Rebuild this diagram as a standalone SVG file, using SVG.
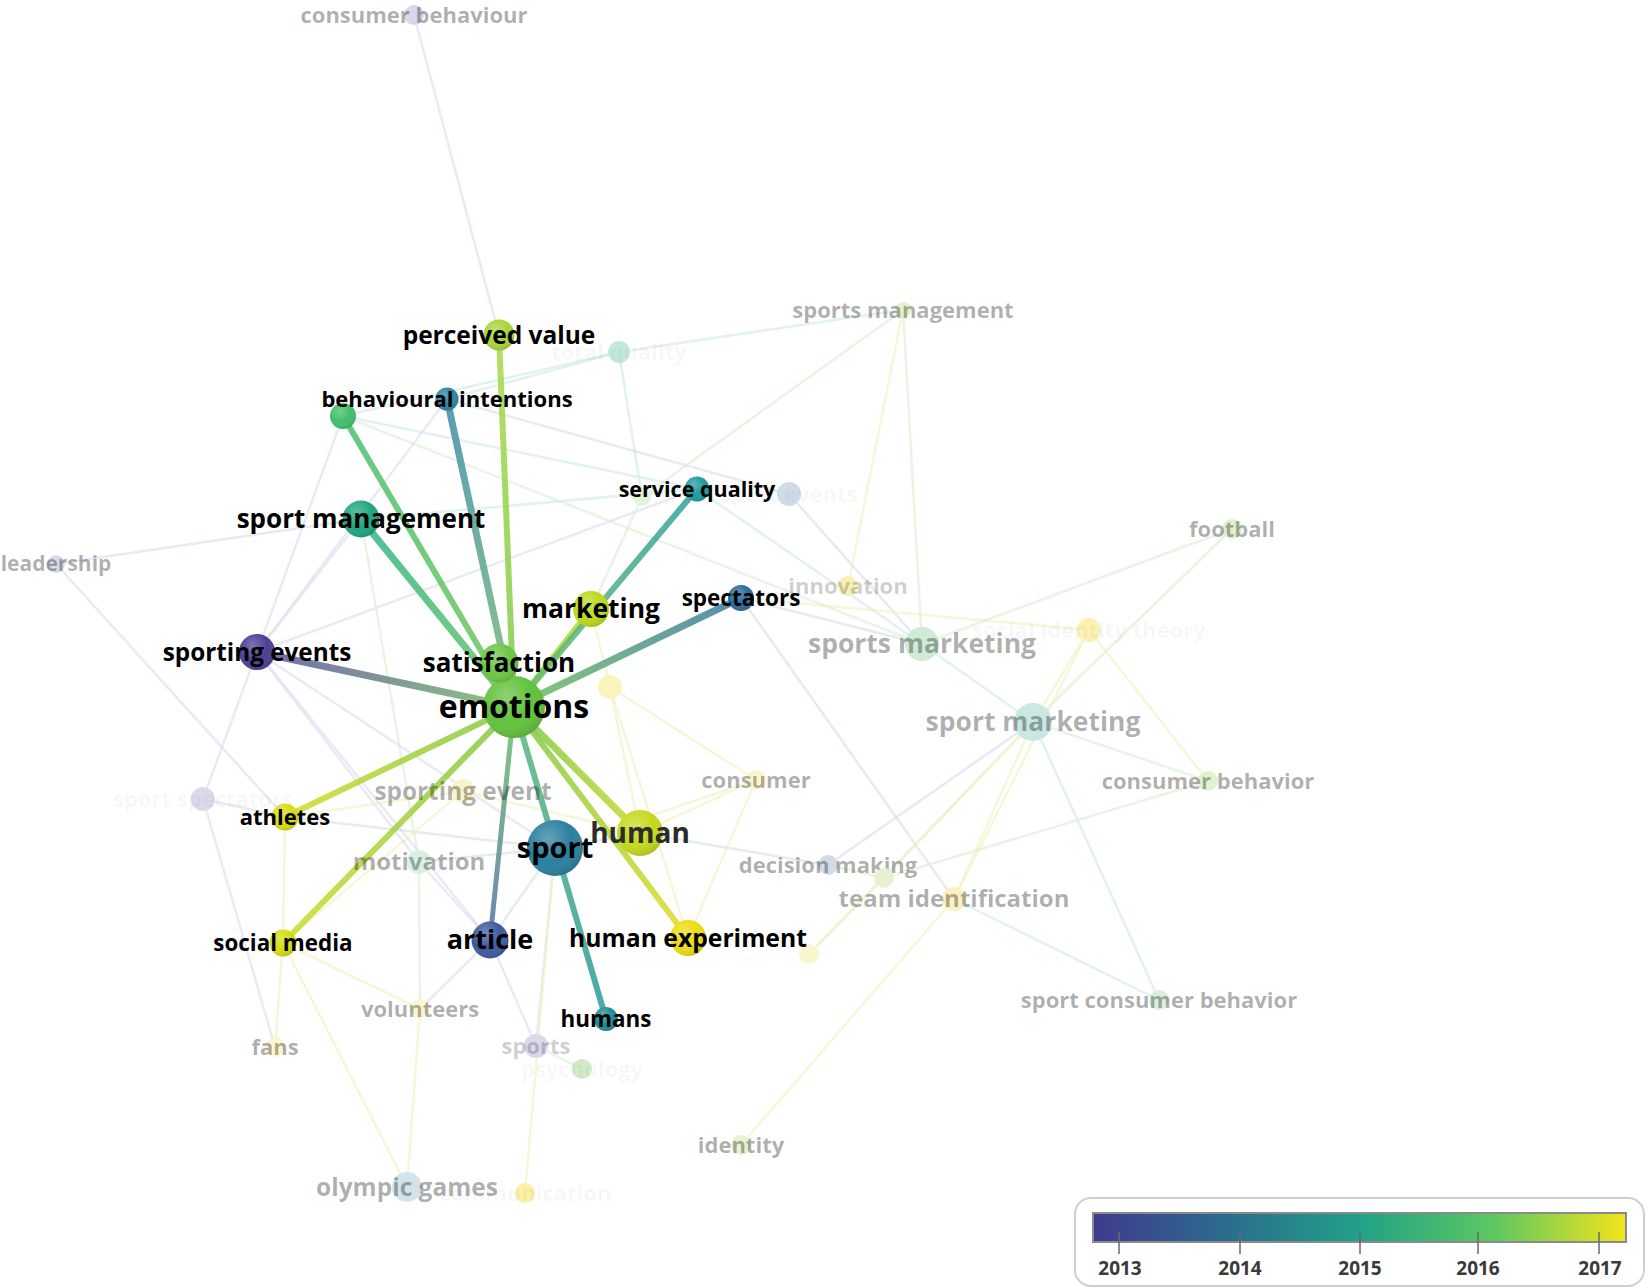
<svg xmlns="http://www.w3.org/2000/svg" width="1650" height="1288" viewBox="0 0 1650 1288">
<style>
text{font-family:"Open Sans","DejaVu Sans",sans-serif;font-weight:700;text-anchor:middle}
.lb{fill:#000}
.lg{fill:#000;fill-opacity:.33}
.li{fill:#000;fill-opacity:.2}
.lf{fill:#000;fill-opacity:.045}
.f{fill:none;stroke-width:2.5;stroke-linecap:round;stroke-opacity:.6}
.fp{stroke:#dcdcef}
.fy{stroke:#f1f0c0}
.fg{stroke:#d9efcf}
.ft{stroke:#cfeae4}
.fb{stroke:#d4deeb}
.t{fill:none;stroke-linecap:round;stroke-opacity:.85}
.sh{fill:url(#shade)}
.yr{font-size:19px;fill:#3a3a3a}
</style>
<defs>
<radialGradient id="shade" cx=".38" cy=".32" r=".75">
<stop offset="0" stop-color="#fff" stop-opacity=".28"/>
<stop offset=".55" stop-color="#fff" stop-opacity="0"/>
<stop offset="1" stop-color="#000" stop-opacity=".18"/>
</radialGradient>
<linearGradient id="leg" x1="0" y1="0" x2="1" y2="0">
<stop offset="0" stop-color="#3f3a8e"/>
<stop offset=".25" stop-color="#2c6c8e"/>
<stop offset=".5" stop-color="#21a187"/>
<stop offset=".75" stop-color="#5cc763"/>
<stop offset="1" stop-color="#f3e41b"/>
</linearGradient>
<linearGradient id="gPV" gradientUnits="userSpaceOnUse" x1="499" y1="335" x2="514" y2="707"><stop offset="0" stop-color="#a9d84c"/><stop offset="1" stop-color="#7ccb4a"/></linearGradient>
<linearGradient id="gBI" gradientUnits="userSpaceOnUse" x1="447" y1="399" x2="514" y2="707"><stop offset="0" stop-color="#3c8ca6"/><stop offset="1" stop-color="#78bc78"/></linearGradient>
<linearGradient id="gGN" gradientUnits="userSpaceOnUse" x1="343" y1="416" x2="514" y2="707"><stop offset="0" stop-color="#48c070"/><stop offset="1" stop-color="#70c858"/></linearGradient>
<linearGradient id="gSMG" gradientUnits="userSpaceOnUse" x1="361" y1="519" x2="514" y2="707"><stop offset="0" stop-color="#30b488"/><stop offset="1" stop-color="#6cc660"/></linearGradient>
<linearGradient id="gSEV" gradientUnits="userSpaceOnUse" x1="257" y1="652" x2="514" y2="707"><stop offset="0" stop-color="#5850a0"/><stop offset="1" stop-color="#7cbc6a"/></linearGradient>
<linearGradient id="gMK" gradientUnits="userSpaceOnUse" x1="591" y1="609" x2="514" y2="707"><stop offset="0" stop-color="#bcdb30"/><stop offset="1" stop-color="#7ccb48"/></linearGradient>
<linearGradient id="gSQ" gradientUnits="userSpaceOnUse" x1="697" y1="489" x2="514" y2="707"><stop offset="0" stop-color="#2c9ea0"/><stop offset="1" stop-color="#70c264"/></linearGradient>
<linearGradient id="gSP" gradientUnits="userSpaceOnUse" x1="741" y1="598" x2="514" y2="707"><stop offset="0" stop-color="#3a78a0"/><stop offset="1" stop-color="#70c264"/></linearGradient>
<linearGradient id="gATH" gradientUnits="userSpaceOnUse" x1="285" y1="817" x2="514" y2="707"><stop offset="0" stop-color="#d0dc28"/><stop offset="1" stop-color="#80c848"/></linearGradient>
<linearGradient id="gSMD" gradientUnits="userSpaceOnUse" x1="283" y1="943" x2="514" y2="707"><stop offset="0" stop-color="#ccdc28"/><stop offset="1" stop-color="#80c848"/></linearGradient>
<linearGradient id="gART" gradientUnits="userSpaceOnUse" x1="490" y1="940" x2="514" y2="707"><stop offset="0" stop-color="#5070a8"/><stop offset="1" stop-color="#70c264"/></linearGradient>
<linearGradient id="gHMS" gradientUnits="userSpaceOnUse" x1="606" y1="1019" x2="514" y2="707"><stop offset="0" stop-color="#2a9a9c"/><stop offset="1" stop-color="#5cb878"/></linearGradient>
<linearGradient id="gHUM" gradientUnits="userSpaceOnUse" x1="640" y1="833" x2="514" y2="707"><stop offset="0" stop-color="#c6d82a"/><stop offset="1" stop-color="#7cc84a"/></linearGradient>
<linearGradient id="gHEX" gradientUnits="userSpaceOnUse" x1="688" y1="938" x2="514" y2="707"><stop offset="0" stop-color="#e2dc22"/><stop offset="1" stop-color="#7cc84a"/></linearGradient>
</defs>
<rect width="1650" height="1288" fill="#fff"/>
<g id="connectors">
<line class="f fp" x1="414" y1="15" x2="499" y2="335"/>
<line class="f ft" x1="619" y1="352" x2="903" y2="310"/>
<line class="f ft" x1="619" y1="352" x2="642" y2="497"/>
<line class="f ft" x1="343" y1="416" x2="619" y2="352"/>
<line class="f ft" x1="447" y1="399" x2="619" y2="352"/>
<line class="f fg" x1="903" y1="310" x2="922" y2="644"/>
<line class="f fy" x1="903" y1="310" x2="848" y2="586"/>
<line class="f fg" x1="903" y1="310" x2="642" y2="497"/>
<line class="f fb" x1="447" y1="399" x2="789" y2="494"/>
<line class="f ft" x1="343" y1="416" x2="697" y2="489"/>
<line class="f fg" x1="343" y1="416" x2="922" y2="644"/>
<line class="f fb" x1="789" y1="494" x2="922" y2="644"/>
<line class="f fb" x1="741" y1="598" x2="954" y2="899"/>
<line class="f fy" x1="741" y1="598" x2="1089" y2="630"/>
<line class="f fb" x1="741" y1="598" x2="922" y2="644"/>
<line class="f ft" x1="697" y1="489" x2="922" y2="644"/>
<line class="f fg" x1="1232" y1="529" x2="922" y2="644"/>
<line class="f fg" x1="1232" y1="529" x2="1033" y2="722"/>
<line class="f fy" x1="1089" y1="630" x2="1033" y2="722"/>
<line class="f fy" x1="1089" y1="630" x2="1208" y2="781"/>
<line class="f fy" x1="1089" y1="630" x2="954" y2="899"/>
<line class="f ft" x1="922" y1="644" x2="1033" y2="722"/>
<line class="f fg" x1="1033" y1="722" x2="1208" y2="781"/>
<line class="f ft" x1="1033" y1="722" x2="1159" y2="1000"/>
<line class="f fg" x1="1033" y1="722" x2="884" y2="878"/>
<line class="f fy" x1="1033" y1="722" x2="954" y2="899"/>
<line class="f fb" x1="1033" y1="722" x2="828" y2="865"/>
<line class="f fy" x1="1033" y1="722" x2="809" y2="954"/>
<line class="f fg" x1="1208" y1="781" x2="884" y2="878"/>
<line class="f fy" x1="756" y1="780" x2="640" y2="833"/>
<line class="f fy" x1="756" y1="780" x2="555" y2="848"/>
<line class="f fy" x1="756" y1="780" x2="688" y2="938"/>
<line class="f fy" x1="756" y1="780" x2="610" y2="687"/>
<line class="f fb" x1="828" y1="865" x2="640" y2="833"/>
<line class="f fg" x1="828" y1="865" x2="884" y2="878"/>
<line class="f ft" x1="954" y1="899" x2="1159" y2="1000"/>
<line class="f fy" x1="954" y1="899" x2="741" y2="1145"/>
<line class="f fy" x1="809" y1="954" x2="884" y2="878"/>
<line class="f fp" x1="257" y1="652" x2="361" y2="519"/>
<line class="f fp" x1="257" y1="652" x2="343" y2="416"/>
<line class="f fp" x1="257" y1="652" x2="203" y2="799"/>
<line class="f fp" x1="257" y1="652" x2="555" y2="848"/>
<line class="f fp" x1="257" y1="652" x2="490" y2="940"/>
<line class="f fp" x1="257" y1="652" x2="697" y2="489"/>
<line class="f fp" x1="447" y1="399" x2="257" y2="652"/>
<line class="f fb" x1="56" y1="564" x2="361" y2="519"/>
<line class="f fp" x1="56" y1="564" x2="285" y2="817"/>
<line class="f fp" x1="203" y1="799" x2="285" y2="817"/>
<line class="f fp" x1="203" y1="799" x2="275" y2="1047"/>
<line class="f fy" x1="285" y1="817" x2="283" y2="943"/>
<line class="f fb" x1="285" y1="817" x2="555" y2="848"/>
<line class="f fy" x1="285" y1="817" x2="463" y2="791"/>
<line class="f fy" x1="283" y1="943" x2="275" y2="1047"/>
<line class="f fy" x1="283" y1="943" x2="407" y2="1187"/>
<line class="f fy" x1="283" y1="943" x2="420" y2="1009"/>
<line class="f fy" x1="283" y1="943" x2="463" y2="791"/>
<line class="f fp" x1="490" y1="940" x2="536" y2="1046"/>
<line class="f fp" x1="490" y1="940" x2="420" y2="1009"/>
<line class="f fp" x1="490" y1="940" x2="419" y2="862"/>
<line class="f fp" x1="555" y1="848" x2="536" y2="1046"/>
<line class="f fb" x1="555" y1="848" x2="490" y2="940"/>
<line class="f fb" x1="555" y1="848" x2="640" y2="833"/>
<line class="f fb" x1="555" y1="848" x2="419" y2="862"/>
<line class="f fy" x1="407" y1="1187" x2="420" y2="1009"/>
<line class="f fy" x1="525" y1="1193" x2="555" y2="848"/>
<line class="f fg" x1="419" y1="862" x2="420" y2="1009"/>
<line class="f fp" x1="419" y1="862" x2="257" y2="652"/>
<line class="f fg" x1="419" y1="862" x2="361" y2="519"/>
<line class="f fy" x1="610" y1="687" x2="640" y2="833"/>
<line class="f fy" x1="610" y1="687" x2="688" y2="938"/>
<line class="f fy" x1="610" y1="687" x2="591" y2="609"/>
<line class="f fy" x1="463" y1="791" x2="640" y2="833"/>
<line class="f fg" x1="536" y1="1046" x2="582" y2="1069"/>
<line class="f ft" x1="361" y1="519" x2="697" y2="489"/>
<line class="f fg" x1="591" y1="609" x2="642" y2="497"/>
<line class="t" stroke="url(#gPV)" stroke-width="6" x1="499" y1="335" x2="514" y2="707"/>
<line class="t" stroke="url(#gBI)" stroke-width="7" x1="447" y1="399" x2="514" y2="707"/>
<line class="t" stroke="url(#gGN)" stroke-width="6" x1="343" y1="416" x2="514" y2="707"/>
<line class="t" stroke="url(#gSMG)" stroke-width="7" x1="361" y1="519" x2="514" y2="707"/>
<line class="t" stroke="url(#gSEV)" stroke-width="7" x1="257" y1="652" x2="514" y2="707"/>
<line class="t" stroke="url(#gMK)" stroke-width="6" x1="591" y1="609" x2="514" y2="707"/>
<line class="t" stroke="url(#gSQ)" stroke-width="6" x1="697" y1="489" x2="514" y2="707"/>
<line class="t" stroke="url(#gSP)" stroke-width="7" x1="741" y1="598" x2="514" y2="707"/>
<line class="t" stroke="url(#gATH)" stroke-width="6" x1="285" y1="817" x2="514" y2="707"/>
<line class="t" stroke="url(#gSMD)" stroke-width="6" x1="283" y1="943" x2="514" y2="707"/>
<line class="t" stroke="url(#gART)" stroke-width="5" x1="490" y1="940" x2="514" y2="707"/>
<line class="t" stroke="url(#gHMS)" stroke-width="6" x1="606" y1="1019" x2="514" y2="707"/>
<line class="t" stroke="url(#gHUM)" stroke-width="7" x1="640" y1="833" x2="514" y2="707"/>
<line class="t" stroke="url(#gHEX)" stroke-width="6" x1="688" y1="938" x2="514" y2="707"/>
</g>
<g id="faint-nodes">
<g id="n-consumer-behaviour"><circle cx="414" cy="15" r="10" fill="#d8d8ea"/><text class="lg" x="414" y="23" font-size="22">consumer behaviour</text></g>
<g id="n-total-quality"><circle cx="619" cy="352" r="11" fill="#c3e9dc"/><text class="lf" x="619" y="360" font-size="22">total quality</text></g>
<g id="n-sports-management"><circle cx="903" cy="310" r="8" fill="#e3f2cc"/><text class="lg" x="903" y="318" font-size="22">sports management</text></g>
<g id="n-unlabelled-1"><circle cx="642" cy="497" r="9" fill="#e2f3d6"/></g>
<g id="n-sport-events"><circle cx="789" cy="494" r="12" fill="#cfdbe7"/><text class="lf" x="789" y="502" font-size="22">sport events</text></g>
<g id="n-football"><circle cx="1232" cy="529" r="10" fill="#dff0cc"/><text class="lg" x="1232" y="537" font-size="22">football</text></g>
<g id="n-leadership"><circle cx="56" cy="564" r="9" fill="#d8dbea"/><text class="lg" x="56" y="571" font-size="21">leadership</text></g>
<g id="n-innovation"><circle cx="848" cy="586" r="10" fill="#f8f0b4"/><text class="li" x="848" y="594" font-size="22">innovation</text></g>
<g id="n-sports-marketing"><circle cx="922" cy="644" r="17" fill="#cfebd5"/><text class="lg" x="922" y="653" font-size="26.5">sports marketing</text></g>
<g id="n-social-identity-theory"><circle cx="1089" cy="630" r="12" fill="#fbf1b2"/><text class="lf" x="1089" y="638" font-size="22" fill-opacity=".09">social identity theory</text></g>
<g id="n-unlabelled-2"><circle cx="610" cy="687" r="12" fill="#faf3bc"/></g>
<g id="n-sport-marketing"><circle cx="1033" cy="722" r="19" fill="#c9e8e3"/><text class="lg" x="1033" y="731" font-size="26.5">sport marketing</text></g>
<g id="n-consumer-behavior"><circle cx="1208" cy="781" r="10" fill="#e2f2cf"/><text class="lg" x="1208" y="789" font-size="22">consumer behavior</text></g>
<g id="n-sport-spectators"><circle cx="203" cy="799" r="12" fill="#dadaec"/><text class="lf" x="203" y="807" font-size="22">sport spectators</text></g>
<g id="n-sporting-event"><circle cx="463" cy="791" r="12" fill="#fbf4cb"/><text class="lg" x="463" y="800" font-size="24.4">sporting event</text></g>
<g id="n-consumer"><circle cx="756" cy="780" r="10" fill="#fbf5cf"/><text class="lg" x="756" y="788" font-size="22">consumer</text></g>
<g id="n-motivation"><circle cx="419" cy="862" r="12" fill="#d8f0e0"/><text class="lg" x="419" y="870" font-size="24">motivation</text></g>
<g id="n-decision-making"><circle cx="828" cy="865" r="10" fill="#d1dce8"/><text class="lg" x="828" y="873" font-size="22">decision making</text></g>
<g id="n-unlabelled-3"><circle cx="884" cy="878" r="10" fill="#e6f2cf"/></g>
<g id="n-team-identification"><circle cx="954" cy="899" r="12" fill="#fbf1bf"/><text class="lg" x="954" y="907" font-size="24">team identification</text></g>
<g id="n-unlabelled-4"><circle cx="809" cy="954" r="10" fill="#f7f6cf"/></g>
<g id="n-volunteers"><circle cx="420" cy="1009" r="10" fill="#fbf6cf"/><text class="lg" x="420" y="1017" font-size="22">volunteers</text></g>
<g id="n-sport-consumer-behavior"><circle cx="1159" cy="1000" r="10" fill="#d9efdd"/><text class="lg" x="1159" y="1008" font-size="22">sport consumer behavior</text></g>
<g id="n-fans"><circle cx="275" cy="1047" r="10" fill="#fbf5d2"/><text class="lg" x="275" y="1055" font-size="22">fans</text></g>
<g id="n-sports"><circle cx="536" cy="1046" r="12" fill="#dad8eb"/><text class="li" x="536" y="1054" font-size="22">sports</text></g>
<g id="n-psychology"><circle cx="582" cy="1069" r="10" fill="#d0ebc6"/><text class="lf" x="582" y="1077" font-size="22">psychology</text></g>
<g id="n-identity"><circle cx="741" cy="1145" r="10" fill="#e7f2cf"/><text class="lg" x="741" y="1153" font-size="22">identity</text></g>
<g id="n-olympic-games"><circle cx="407" cy="1187" r="15" fill="#d2e3e9"/><text class="lg" x="407" y="1196" font-size="24.5">olympic games</text></g>
<g id="n-communication"><circle cx="525" cy="1193" r="10" fill="#fbf0a6"/><text class="lf" x="525" y="1201" font-size="22">communication</text></g>
</g>
<g id="main-nodes">
<g id="n-perceived-value"><circle cx="499" cy="335" r="15.5" fill="#a6d43a"/><circle class="sh" cx="499" cy="335" r="15.5"/><text class="lb" x="499" y="344" font-size="24.5">perceived value</text></g>
<g id="n-unlabelled-green"><circle cx="343" cy="416" r="13" fill="#40be6b"/><circle class="sh" cx="343" cy="416" r="13"/></g>
<g id="n-behavioural-intentions"><circle cx="447" cy="399" r="11.5" fill="#2c84a2"/><circle class="sh" cx="447" cy="399" r="11.5"/><text class="lb" x="447" y="407" font-size="22">behavioural intentions</text></g>
<g id="n-service-quality"><circle cx="697" cy="489" r="12.5" fill="#1f9a9f"/><circle class="sh" cx="697" cy="489" r="12.5"/><text class="lb" x="697" y="497" font-size="21.5">service quality</text></g>
<g id="n-sport-management"><circle cx="361" cy="519" r="18.5" fill="#1fa67f"/><circle class="sh" cx="361" cy="519" r="18.5"/><text class="lb" x="361" y="528" font-size="26">sport management</text></g>
<g id="n-marketing"><circle cx="591" cy="609" r="18" fill="#bdd91c"/><circle class="sh" cx="591" cy="609" r="18"/><text class="lb" x="591" y="618" font-size="26.5">marketing</text></g>
<g id="n-spectators"><circle cx="741" cy="598" r="13" fill="#2d6a9a"/><circle class="sh" cx="741" cy="598" r="13"/><text class="lb" x="741" y="606" font-size="22.5">spectators</text></g>
<g id="n-sporting-events"><circle cx="257" cy="652" r="18" fill="#4b3f96"/><circle class="sh" cx="257" cy="652" r="18"/><text class="lb" x="257" y="661" font-size="24.3">sporting events</text></g>
<g id="n-emotions"><circle cx="514" cy="707" r="31" fill="#62c23c"/><circle class="sh" cx="514" cy="707" r="31"/><text class="lb" x="514" y="718" font-size="32">emotions</text></g>
<g id="n-satisfaction"><circle cx="499" cy="663" r="19.5" fill="#6cc644"/><circle class="sh" cx="499" cy="663" r="19.5"/><text class="lb" x="499" y="672" font-size="26">satisfaction</text></g>
<g id="n-athletes"><circle cx="285" cy="817" r="13.5" fill="#d8dc14"/><circle class="sh" cx="285" cy="817" r="13.5"/><text class="lb" x="285" y="825" font-size="22">athletes</text></g>
<g id="n-social-media"><circle cx="283" cy="943" r="13.5" fill="#d3dc14"/><circle class="sh" cx="283" cy="943" r="13.5"/><text class="lb" x="283" y="951" font-size="22.4">social media</text></g>
<g id="n-article"><circle cx="490" cy="940" r="18.5" fill="#3e5a9e"/><circle class="sh" cx="490" cy="940" r="18.5"/><text class="lb" x="490" y="949" font-size="27">article</text></g>
<g id="n-sport"><circle cx="555" cy="848" r="28" fill="#2b7f9f"/><circle class="sh" cx="555" cy="848" r="28"/><text class="lb" x="555" y="858" font-size="29">sport</text></g>
<g id="n-human"><circle cx="640" cy="833" r="23" fill="#c5d81c"/><circle class="sh" cx="640" cy="833" r="23"/><text x="640" y="843" font-size="28" fill="#2b2b2b">human</text></g>
<g id="n-human-experiment"><circle cx="688" cy="938" r="18" fill="#ecdc10"/><circle class="sh" cx="688" cy="938" r="18"/><text class="lb" x="688" y="947" font-size="24.7">human experiment</text></g>
<g id="n-humans"><circle cx="606" cy="1019" r="12" fill="#1e8c94"/><circle class="sh" cx="606" cy="1019" r="12"/><text class="lb" x="606" y="1027" font-size="22.4">humans</text></g>
</g>
<g id="legend">
<rect x="1075" y="1198" width="569" height="88" rx="16" fill="#fff" stroke="#cfcfcf" stroke-width="2"/>
<rect x="1093" y="1213" width="533" height="29" fill="url(#leg)" stroke="#8a8a8a" stroke-width="2"/>
<g stroke="#6a6a6a" stroke-width="1.5">
<line x1="1119" y1="1232" x2="1119" y2="1254"/>
<line x1="1240" y1="1232" x2="1240" y2="1254"/>
<line x1="1360" y1="1232" x2="1360" y2="1254"/>
<line x1="1478" y1="1232" x2="1478" y2="1254"/>
<line x1="1599" y1="1232" x2="1599" y2="1254"/>
</g>
<text class="yr" x="1120" y="1275">2013</text>
<text class="yr" x="1240" y="1275">2014</text>
<text class="yr" x="1360" y="1275">2015</text>
<text class="yr" x="1478" y="1275">2016</text>
<text class="yr" x="1600" y="1275">2017</text>
</g>
</svg>
